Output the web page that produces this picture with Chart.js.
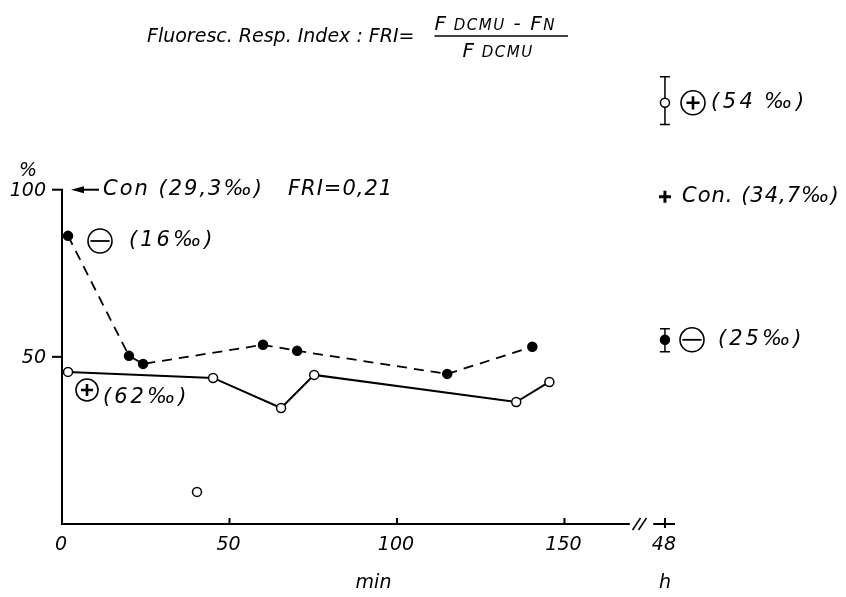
<!DOCTYPE html>
<html>
<head>
<meta charset="utf-8">
<script src="https://cdn.jsdelivr.net/npm/chart.js@4/dist/chart.umd.min.js"></script>
<style>
html, body { margin: 0; padding: 0; background: #fff; }
#graph { display: block; }
</style>
</head>
<body>
<canvas id="graph" width="846" height="597"></canvas>
<script>
// time in min ; 180 is the 48 h reading, drawn after the axis break
const minusTime = [1.8, 20, 24.2, 60, 70.2, 115, 140.4];
const minusValues = [86.2, 50.3, 47.9, 53.6, 51.8, 44.9, 53];
const plusTime = [1.8, 45.1, 65.4, 75.3, 135.6, 145.5];
const plusValues = [45.5, 43.7, 34.7, 44.6, 36.5, 42.5];
const strayTime = [40.3];
const strayValues = [9.6];

const hourTime = 180;
const hourPlus = 126;
const hourPlusErr = [119.5, 133.8];
const hourCon = 97.9;
const hourMinus = 55.1;
const hourMinusErr = [51.5, 58.4];

const xTicks = [0, 50, 100, 150, 180];
const xTickLabels = ["0", "50", "100", "150", "48"];
const yTicks = [50, 100];
const yTickLabels = ["50", "100"];
const breakFrom = 169.5;
const breakTo = 176.5;

const FONT = '"DejaVu Sans", "Liberation Sans", sans-serif';

function pts(xs, ys) {
	return xs.map((t, i) => ({ x: t, y: ys[i] }));
}

function txt(ctx, s, x, y, size, align, spacing) {
	ctx.font = "italic " + size + "px " + FONT;
	ctx.letterSpacing = (spacing || 0) + "px";
	ctx.textAlign = align || "left";
	ctx.textBaseline = "middle";
	ctx.fillText(s, x, y);
	ctx.letterSpacing = "0px";
}

// draws pieces one after the other, each {s, size}
function runs(ctx, parts, x, y, spacing) {
	ctx.textAlign = "left";
	ctx.textBaseline = "alphabetic";
	ctx.letterSpacing = (spacing || 0) + "px";
	parts.forEach((p) => {
		ctx.font = "italic " + p.size + "px " + FONT;
		ctx.fillText(p.s, x, y);
		x += ctx.measureText(p.s).width;
	});
	ctx.letterSpacing = "0px";
	return x;
}

function circled(ctx, cx, cy, r, sign) {
	ctx.lineWidth = 1.6;
	ctx.beginPath();
	ctx.arc(cx, cy, r, 0, Math.PI * 2);
	ctx.stroke();
	ctx.lineWidth = sign == "+" ? 2.6 : 1.8;
	ctx.beginPath();
	let h = sign == "+" ? r * 0.55 : r * 0.8;
	ctx.moveTo(cx - h, cy);
	ctx.lineTo(cx + h, cy);
	if(sign == "+") {
		ctx.moveTo(cx, cy - h);
		ctx.lineTo(cx, cy + h);
	}
	ctx.stroke();
}

const errorBars = {
	id: "errorBars",
	beforeDatasetsDraw(chart) {
		const ctx = chart.ctx;
		const X = v => chart.scales.x.getPixelForValue(v);
		const Y = v => chart.scales.y.getPixelForValue(v);
		ctx.save();
		ctx.strokeStyle = "#000";
		ctx.lineWidth = 1.5;
		[hourPlusErr, hourMinusErr].forEach((err) => {
			let cx = X(hourTime);
			ctx.beginPath();
			ctx.moveTo(cx, Y(err[0]));
			ctx.lineTo(cx, Y(err[1]));
			ctx.moveTo(cx - 5, Y(err[0]));
			ctx.lineTo(cx + 5, Y(err[0]));
			ctx.moveTo(cx - 5, Y(err[1]));
			ctx.lineTo(cx + 5, Y(err[1]));
			ctx.stroke();
		});
		ctx.restore();
	}
};

const axesAndText = {
	id: "axesAndText",
	afterDraw(chart) {
		const ctx = chart.ctx;
		const X = v => chart.scales.x.getPixelForValue(v);
		const Y = v => chart.scales.y.getPixelForValue(v);
		const x0 = X(0), y0 = Y(0);
		ctx.save();
		ctx.strokeStyle = "#000";
		ctx.fillStyle = "#000";
		ctx.lineCap = "butt";

		// y axis, only up to 100 %
		ctx.lineWidth = 2;
		ctx.beginPath();
		ctx.moveTo(x0, y0 + 1);
		ctx.lineTo(x0, Y(100));
		ctx.stroke();
		yTicks.forEach((v, i) => {
			ctx.beginPath();
			ctx.moveTo(x0 - 10, Y(v));
			ctx.lineTo(x0 + 1, Y(v));
			ctx.stroke();
			txt(ctx, yTickLabels[i], x0 - 16, Y(v) + 1, 19, "right");
		});
		txt(ctx, "%", x0 - 34, Y(100) - 19, 19, "center");

		// x axis with the break before 48 h
		ctx.beginPath();
		ctx.moveTo(x0 - 1, y0);
		ctx.lineTo(X(breakFrom), y0);
		ctx.moveTo(X(breakTo), y0);
		ctx.lineTo(chart.chartArea.right, y0);
		ctx.stroke();
		ctx.lineWidth = 1.5;
		let bx = (X(breakFrom) + X(breakTo)) / 2;
		ctx.beginPath();
		ctx.moveTo(bx - 9, y0 + 6);
		ctx.lineTo(bx - 1, y0 - 6);
		ctx.moveTo(bx - 3, y0 + 6);
		ctx.lineTo(bx + 5, y0 - 6);
		ctx.stroke();
		ctx.lineWidth = 2;
		xTicks.forEach((t, i) => {
			if(t > 0) {
				ctx.beginPath();
				ctx.moveTo(X(t), y0 - 6);
				ctx.lineTo(X(t), t == hourTime ? y0 + 4 : y0);
				ctx.stroke();
			}
			txt(ctx, xTickLabels[i], X(t) - 1, y0 + 21, 19, "center");
		});
		txt(ctx, "min", X(93), y0 + 59, 19, "center");
		txt(ctx, "h", X(hourTime), y0 + 59, 19, "center");

		// control arrow and labels on the left
		let ya = Y(100);
		ctx.lineWidth = 2;
		ctx.beginPath();
		ctx.moveTo(x0 + 37, ya);
		ctx.lineTo(x0 + 18, ya);
		ctx.stroke();
		ctx.beginPath();
		ctx.moveTo(x0 + 9, ya);
		ctx.lineTo(x0 + 22, ya - 3.5);
		ctx.lineTo(x0 + 22, ya + 3.5);
		ctx.closePath();
		ctx.fill();
		txt(ctx, "Con (29,3‰)", x0 + 41, ya, 21, "left", 2);
		txt(ctx, "FRI=0,21", x0 + 226, ya, 21, "left", 1);

		circled(ctx, 100, 241, 12, "-");
		txt(ctx, "(16‰)", 129, 241, 21, "left", 3);
		circled(ctx, 87, 390, 11, "+");
		txt(ctx, "(62‰)", 103, 398, 21, "left", 3);

		// right hand labels for the 48 h values
		circled(ctx, 693, Y(hourPlus), 12, "+");
		txt(ctx, "(54\u2009‰)", 711, Y(hourPlus), 21, "left", 3.5);
		txt(ctx, "Con. (34,7‰)", 682, Y(hourCon), 21, "left", 1);
		circled(ctx, 692, Y(hourMinus), 12, "-");
		txt(ctx, "(25‰)", 718, Y(hourMinus), 21, "left", 3);

		// title with the index formula
		let end = runs(ctx, [{ s: "Fluoresc. Resp. Index : FRI=", size: 19 }], 147, 42);
		let fx = end + 20;
		runs(ctx, [
			{ s: "F", size: 20 },
			{ s: " DCMU", size: 15 },
			{ s: " - F", size: 20 },
			{ s: "N", size: 15 }
		], fx, 30, 1.5);
		ctx.lineWidth = 1.3;
		ctx.beginPath();
		ctx.moveTo(fx, 36);
		ctx.lineTo(568, 36);
		ctx.stroke();
		runs(ctx, [
			{ s: "F", size: 20 },
			{ s: " DCMU", size: 15 }
		], fx + 28, 57, 1.5);
		ctx.restore();
	}
};

const lineBase = {
	showLine: true,
	borderColor: "#000",
	pointBorderColor: "#000",
	pointBorderWidth: 1.5,
	pointRadius: 4.5,
	pointHoverRadius: 4.5,
	clip: false,
	tension: 0
};

new Chart(document.getElementById("graph"), {
	type: "scatter",
	data: {
		datasets: [
			Object.assign({}, lineBase, {
				label: "minus",
				data: pts(minusTime, minusValues),
				borderWidth: 1.8,
				borderDash: [10, 7],
				pointBackgroundColor: "#000"
			}),
			Object.assign({}, lineBase, {
				label: "plus",
				data: pts(plusTime, plusValues),
				borderWidth: 2,
				pointBackgroundColor: "#fff"
			}),
			Object.assign({}, lineBase, {
				label: "plus single",
				data: pts(strayTime, strayValues),
				showLine: false,
				pointBackgroundColor: "#fff"
			}),
			Object.assign({}, lineBase, {
				label: "48 h",
				data: [{ x: hourTime, y: hourPlus }, { x: hourTime, y: hourMinus }],
				showLine: false,
				pointBackgroundColor: ["#fff", "#000"]
			}),
			{
				label: "48 h control",
				data: [{ x: hourTime, y: hourCon }],
				pointStyle: "cross",
				pointRadius: 6,
				pointBorderWidth: 3,
				borderColor: "#000",
				pointBorderColor: "#000",
				clip: false
			}
		]
	},
	options: {
		responsive: false,
		animation: false,
		devicePixelRatio: 1,
		events: [],
		layout: { padding: { left: 62, right: 171, top: 56, bottom: 73 } },
		plugins: { legend: { display: false }, tooltip: { enabled: false } },
		scales: {
			x: { type: "linear", display: false, min: 0, max: 183 },
			y: { type: "linear", display: false, min: 0, max: 140 }
		}
	},
	plugins: [errorBars, axesAndText]
});
</script>
</body>
</html>
